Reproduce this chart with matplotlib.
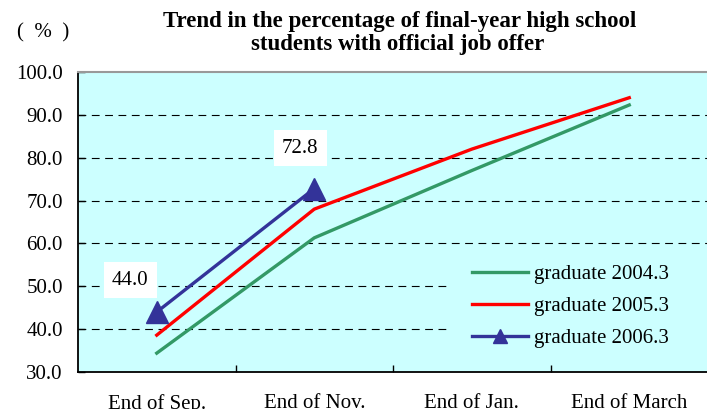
import matplotlib
matplotlib.use("Agg")
import matplotlib.pyplot as plt
from matplotlib.patches import Rectangle
from matplotlib.ticker import FixedLocator, FormatStrFormatter

# data
months = ["End of Sep.", "End of Nov.", "End of Jan.", "End of March"]
grad_2004 = [34.4, 61.3, 77.0, 92.3]
grad_2005 = [38.6, 68.0, 82.0, 94.0]
grad_2006 = [44.0, 72.8]
yticks = [30, 40, 50, 60, 70, 80, 90, 100]

plt.rcParams['font.family'] = ['Liberation Serif', 'DejaVu Serif']

fig = plt.figure(figsize=(7.07, 4.09), dpi=100)
ax = fig.add_axes([78 / 707, 1 - 372 / 409, 630 / 707, 300 / 409])
ax.set_facecolor('#CCFFFF')

x = list(range(len(months)))
ax.plot(x, grad_2004, color='#339966', lw=2.4, label='graduate 2004.3', zorder=3)
ax.plot(x, grad_2005, color='#FF0000', lw=2.4, label='graduate 2005.3', zorder=3)
ax.plot(x[:len(grad_2006)], grad_2006, color='#333399', lw=2.4, marker='^',
        ms=16, label='graduate 2006.3', zorder=4)

# value labels for the 2006 series
offsets = [(-19, 23), (-10, 29)]
for i, v in enumerate(grad_2006):
    ax.annotate('%.1f' % v, (x[i], v), xytext=offsets[i], textcoords='offset points',
                ha='center', va='center', fontsize=15,
                bbox=dict(boxstyle='square,pad=0.4', fc='white', ec='none'), zorder=5)

ax.set_xlim(-0.5, 3.5)
ax.set_ylim(30, 100)
ax.yaxis.set_major_locator(FixedLocator(yticks))
ax.yaxis.set_major_formatter(FormatStrFormatter('%.1f'))
ax.set_xticks(x)
ax.set_xticklabels(months)
ax.set_xticks([0.5, 1.5, 2.5], minor=True)
ax.tick_params(axis='x', which='major', length=0, pad=16, labelsize=15)
ax.tick_params(axis='x', which='minor', direction='in', length=5, width=1)
ax.tick_params(axis='y', direction='in', length=5, width=1, pad=11, labelsize=15)

for v in yticks[1:-1]:
    ax.axhline(v, color='black', lw=0.8, ls=(0, (7, 5)), zorder=1)

ax.spines['left'].set_linewidth(1.3)
ax.spines['bottom'].set_linewidth(1.3)
ax.spines['top'].set_color('#999999')
ax.spines['top'].set_linewidth(1.5)
ax.spines['right'].set_visible(False)

# legend area hides the lower gridlines
ax.add_patch(Rectangle((0.586, 0.06), 0.5, 0.33, transform=ax.transAxes,
                       fc='#CCFFFF', ec='none', zorder=2, clip_on=False))
leg = ax.legend(loc='upper left', bbox_to_anchor=(0.625, 0.358), fontsize=15,
                frameon=False, handlelength=2.7, handletextpad=0.3,
                labelspacing=0.59, borderpad=0, borderaxespad=0, markerscale=0.6)
leg.set_zorder(6)

fig.text(400 / 707, 1 - 27 / 409, "Trend in the percentage of final-year high school",
         ha='center', va='baseline', fontsize=16.5, fontweight='bold')
fig.text(398 / 707, 1 - 50 / 409, "students with official job offer",
         ha='center', va='baseline', fontsize=16.5, fontweight='bold')
fig.text(43 / 707, 1 - 33 / 409, '(  %  )', ha='center', va='center', fontsize=15)

fig.savefig('out.png', dpi=100)
